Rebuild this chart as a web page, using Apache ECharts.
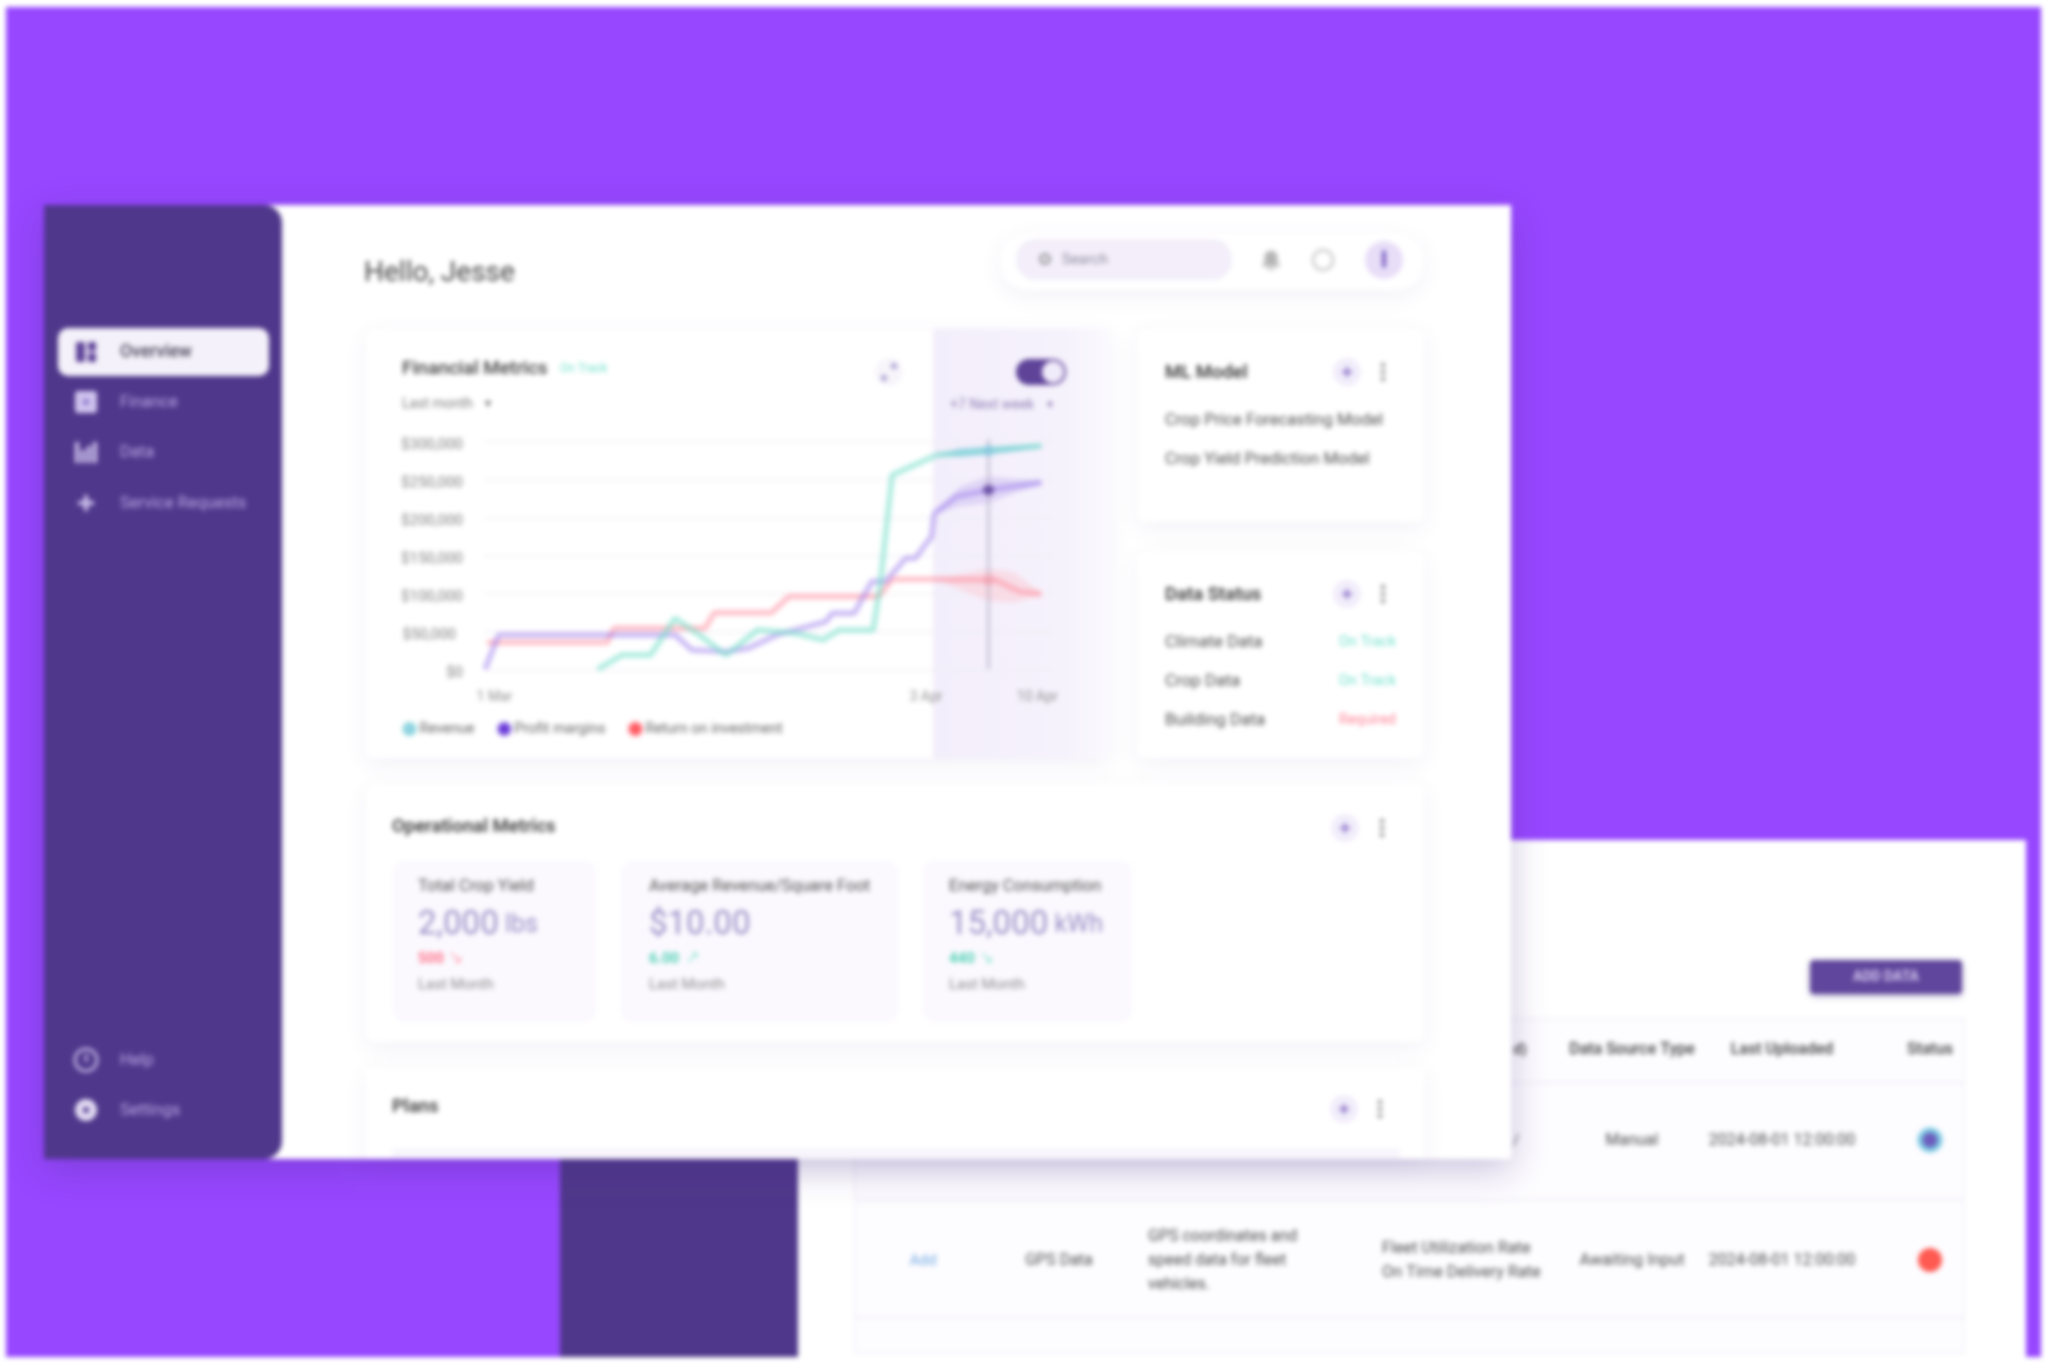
<!DOCTYPE html>
<html><head><meta charset="utf-8">
<style>html,body{margin:0;padding:0;background:#fff;overflow:hidden}#c{width:2048px;height:1363px;filter:blur(2.5px)}</style>
<script src="https://cdn.jsdelivr.net/npm/echarts@6/dist/echarts.min.js"></script>
</head><body><div id="c"></div>
<script>
// ---- chart data (days since 1 Mar, dollars) ----
const revenueDays   = [8.3,10.1,12.2,14.0,15.8,17.75,20.1,22.9,24.9,26.1,28.6,29.1,30.0,33.3,37.1,41.0];
const revenueValues = [0,18900,18900,67200,45300,18900,51800,47500,38700,51800,51800,109000,256200,282500,288300,294400];
const profitDays    = [0,1.0,14,15.25,17.75,19.4,21.5,25.1,25.6,27.2,28.5,29.5,31.0,31.7,32.9,33.1,34.7,37.1,41.0];
const profitValues  = [0,45300,45300,25500,23300,27700,45300,62800,73800,73800,115600,115600,146300,146300,174900,205600,227600,236400,246100];
const roiDays       = [0.15,9.0,9.5,16.2,16.9,21.1,22.4,29.0,30.0,33.3,37.6,39.4,41.0];
const roiValues     = [35200,35200,54000,54000,74700,74700,95800,95800,118600,118600,117800,102400,99300];
const bandDays      = [33.3,35,37.1,39,41];
const revenueLow    = [282000,280000,283000,287000,293000];
const revenueHigh   = [283000,291000,293000,295000,296000];
const profitLow     = [205000,215000,219000,232000,243000];
const profitHigh    = [209000,241000,254000,251000,249000];
const roiLow        = [118000,105000,90000,88000,97000];
const roiHigh       = [119000,125000,133000,128000,101000];
const selectedDay   = 37.1;
const selectedVals  = [288300,236400,117800];
const cursorSpan    = [0,304000];
const seriesNames   = ['Revenue','Profit margins','Return on investment'];
const yTicks        = [0,50000,100000,150000,200000,250000,300000];
const yTickLabels   = ['$0','$50,000','$100,000','$150,000','$200,000','$250,000','$300,000'];
const xTickDays     = [0.7,32.5,40.7];
const xTickLabels   = ['1 Mar','3 Apr','10 Apr'];
// ---- page text ----
const navTop = ['Finance','Data','Service Requests'];
const navBottom = ['Help','Settings'];
const mlRows = ['Crop Price Forecasting Model','Crop Yield Prediction Model'];
const statusRows = ['Climate Data','Crop Data','Building Data'];
const statusVals = ['On Track','On Track','Required'];
const metricTitles = ['Total Crop Yield','Average Revenue/Square Foot','Energy Consumption'];
const metricNums = ['2,000','$10.00','15,000'];
const metricUnits = [' lbs','',' kWh'];
const metricDeltas = ['500','6.00','440'];

const F='Roboto';
const PUR='#9747FF',DK='#4F378B',MID='#5F4399',TEAL='#6FE0CC',RED='#FF8296';
const g=[];
function R(x,y,w,h,fill,r,extra){g.push({type:'rect',silent:true,shape:{x,y,width:w,height:h,r:r||0},style:Object.assign({fill},extra||{})});}
function C(cx,cy,r,fill,extra){g.push({type:'circle',silent:true,shape:{cx,cy,r},style:Object.assign({fill},extra||{})});}
function T(x,y,text,size,fill,weight,align){g.push({type:'text',silent:true,x,y:y+3.3,style:{text,fontSize:size,fontFamily:F,fontWeight:weight||400,fill,textAlign:align||'left',textVerticalAlign:'middle',align:align||'left',verticalAlign:'middle'}});}
function controls(px,kx,y){C(px,y,14,'#F2EDFB');R(px-5,y-1,10,2,'#7A5FC0');R(px-1,y-5,2,10,'#7A5FC0');[-7,0,7].forEach(d=>C(kx,y+d,1.9,'#666'));}
const shadow={shadowBlur:22,shadowColor:'rgba(90,60,150,.08)',shadowOffsetY:6};

// page background
R(6,7,2035,1350,PUR);
// back window
R(798,840,1228,517,'#fff');
R(1810,960,152,34,'#60469C',4,{shadowBlur:6,shadowColor:'rgba(60,40,120,.35)',shadowOffsetY:2});
T(1886,974,'ADD DATA',14,'#D6CAF0',700,'center');
R(855,1019,1109,334,'#FDFCFF',0,{stroke:'#F1EEF6',lineWidth:1.5});
[1082,1199,1317].forEach(y=>R(855,y,1109,1.5,'#EFECF4'));
T(1520,1047,'d)',15,'#3E3E3E',500,'center');
T(1632,1047,'Data Source Type',16,'#3E3E3E',500,'center');
T(1782,1047,'Last Uploaded',16,'#3E3E3E',500,'center');
T(1930,1047,'Status',16,'#3E3E3E',500,'center');
T(1513,1138,'/',15,'#555');
T(1632,1138,'Manual',16,'#4C4C4C',400,'center');
T(1782,1138,'2024-08-01 12:00:00',16,'#4C4C4C',400,'center');
C(1930,1140,12.5,'#7CCBE2');C(1930,1140,7.5,'#6D5CBE');
T(923,1258,'Add',15,'#6FA8E0',400,'center');
T(1059,1258,'GPS Data',16,'#4C4C4C',400,'center');
T(1148,1234,'GPS coordinates and',16,'#4C4C4C');T(1148,1258,'speed data for fleet',16,'#4C4C4C');T(1148,1282,'vehicles.',16,'#4C4C4C');
T(1382,1246,'Fleet Utilization Rate',16.3,'#4C4C4C');T(1382,1270,'On Time Delivery Rate',16.3,'#4C4C4C');
T(1632,1258,'Awaiting Input',16.5,'#4C4C4C',400,'center');
T(1782,1258,'2024-08-01 12:00:00',16,'#4C4C4C',400,'center');
C(1930,1260,12,'#FF5A52');
// dark strip below window
R(560,1159,238,198,DK);
// main window
R(44,205,1467,954,'#fff',0,{shadowBlur:34,shadowColor:'rgba(70,40,130,.28)',shadowOffsetY:10});
R(44,205,238,954,DK,[0,18,18,0]);
// nav
R(58,328,211,48,'#F4F1FA',10);
R(76,342,9,20,MID,1);R(88,342,8,9,MID,1);R(88,353,8,9,MID,1);
T(120,349,'Overview',17.5,'#4A4458',500);
navTop.forEach((t,i)=>T(120,[400,450,501][i],t,16.5,'#BCA9E6'));
R(75,391,22,22,'#CFC3EE',3);C(86,402,3,'#8B74C8');
R(75,442,4,21,'#CFC3EE');R(81,450,4,13,'#CFC3EE');R(87,446,4,17,'#CFC3EE');R(93,442,4,21,'#CFC3EE');
R(84,495,4,16,'#CFC3EE');R(78,501,16,4,'#CFC3EE');
C(86,1060,11,'none',{stroke:'#CFC3EE',lineWidth:2.5});R(85,1054,2.5,8,'#CFC3EE');
C(86,1110,11,'#E3DCF4');C(86,1110,3,DK);
navBottom.forEach((t,i)=>T(120,[1058,1108][i],t,16.5,'#BCA9E6'));
// header
T(364,271,'Hello, Jesse',28,'#444');
R(1000,233,424,57,'#fff',28,shadow);
R(1016,239,216,41,'#F3EEFA',20);
C(1045,259,4.5,'none',{stroke:'#777',lineWidth:2});
T(1062,257,'Search',15,'#8E8A98');
C(1271,257,6.5,'#B5B5B5');R(1264.5,257,13,8,'#B5B5B5');R(1262,264,18,2.5,'#B5B5B5');R(1268,268,6,2,'#B5B5B5');
C(1323,260,10,'none',{stroke:'#BCBCBC',lineWidth:2});
C(1384,260,19,'#E8DEF8');R(1382,250,4,18,'#7A5FC0',2);
// financial card
R(366,329,744,429,'#fff',8,shadow);
R(933,329,177,429,{type:'linear',x:0,y:0,x2:1,y2:0,colorStops:[{offset:0,color:'#F3EEFB'},{offset:.75,color:'#F6F2FC'},{offset:1,color:'#FBFAFE'}]});
T(402,366,'Financial Metrics',19,'#3F3F3F',500);
T(560,366,'On Track',12,TEAL);
T(402,401,'Last month',14,'#7E7E7E');
T(485,401,'▾',12,'#666');
C(889,372,14,'#F7F5FA');C(884,378,3,'#A79AD0');C(894,366,3,'#A79AD0');
R(1016,359,50,26,MID,13);C(1053,372,11,'#F0EBFA');
T(950,402,'+7 Next week',14,'#8F80B5');
T(1047,402,'▾',12,'#8A7BB0');
// ML card
R(1137,329,287,193,'#fff',8,shadow);
T(1165,370,'ML Model',18.5,'#3F3F3F',600);
controls(1347,1383,372);
mlRows.forEach((t,i)=>T(1165,[418,457][i],t,16.6,'#4F4F4F'));
// data status
R(1137,551,287,207,'#fff',8,shadow);
T(1165,592,'Data Status',18.5,'#3F3F3F',600);
controls(1347,1383,594);
statusRows.forEach((t,i)=>{const y=[639.5,678.5,717.5][i];T(1165,y,t,17,'#4F4F4F');T(1396,y,statusVals[i],14.5,i<2?TEAL:RED,400,'right');});
// operational
R(366,784,1058,258,'#fff',8,shadow);
T(392,824,'Operational Metrics',18.5,'#3F3F3F',600);
controls(1345,1382,828);
[[392,205,26],[620,279,29],[922,211,26]].forEach(([x,w,o],i)=>{
  R(x,860,w,163,'#FBF9FE',14);
  const tx=x+o+(i==2?1:0);
  T(tx,884,metricTitles[i],16.5,'#4F4F4F');
  g.push({type:'text',silent:true,x:tx,y:926,style:{text:'{a|'+metricNums[i]+'}{b|'+metricUnits[i]+'}',textVerticalAlign:'middle',verticalAlign:'middle',rich:{a:{fontSize:33,fontFamily:F,fill:'#9A8DC6',color:'#9A8DC6'},b:{fontSize:25,fontFamily:F,fill:'#9A8DC6',color:'#9A8DC6'}}}});
  T(tx,955.5,metricDeltas[i],15,i==0?'#FF7088':'#4FD0B5',700);
  T(tx+(i==1?36:30),955.5,i==1?'↗':'↘',18,i==0?'#FF9FAE':'#8FE3D2');
  T(tx,982,'Last Month',15,'#8A8A8A');
});
// plans
R(366,1068,1058,91,'#fff',0,shadow);
T(392,1104,'Plans',18.5,'#3F3F3F',600);
controls(1344,1380,1109);
R(392,1148,1008,11,'#F8F6FC');

const pair=(xs,ys)=>xs.map((x,i)=>[x,ys[i]]);
function band(name,lo,hi,color,op){
  return {type:'custom',name,z:3,clip:false,silent:true,
    data:[[bandDays[0],lo[0]]],
    renderItem:(p,api)=>{
      const top=bandDays.map((d,i)=>api.coord([d,hi[i]]));
      const bot=bandDays.map((d,i)=>api.coord([d,lo[i]])).reverse();
      return {type:'polygon',shape:{points:top.concat(bot)},style:{fill:color,opacity:op}};
    }};
}
const lineBase={type:'line',symbol:'none',smooth:false,clip:false,z:4};
const chart=echarts.init(document.getElementById('c'),null,{width:2048,height:1363,devicePixelRatio:1});
chart.setOption({
  animation:false,
  backgroundColor:'transparent',
  graphic:{elements:g},
  grid:{left:485,top:441.7,width:570,height:227.6,containLabel:false},
  xAxis:{type:'value',min:0,max:42,splitLine:{show:false},axisLine:{show:false},axisTick:{show:false},
    axisLabel:{customValues:xTickDays,formatter:v=>xTickLabels[xTickDays.findIndex(d=>Math.abs(d-v)<.01)]||'',color:'#8F8F8F',fontSize:14,fontFamily:F,margin:21,hideOverlap:false}},
  yAxis:{type:'value',min:0,max:300000,interval:50000,axisLine:{show:false},axisTick:{show:false},
    splitLine:{lineStyle:{color:'#F0EEF4',width:1.5}},
    axisLabel:{formatter:v=>v===50000?'{s|'+yTickLabels[1]+'}':yTickLabels[yTicks.indexOf(v)],color:'#7E7E7E',fontSize:15,fontFamily:F,margin:22,padding:[8,0,0,0],
      rich:{s:{color:'#7E7E7E',fontSize:15,fontFamily:F,padding:[0,7,0,0]}}}},
  legend:{left:397,top:716,itemGap:22,itemWidth:14,itemHeight:14,icon:'circle',
    textStyle:{fontSize:14.5,fontFamily:F,color:'#636363',padding:[0,0,0,-2]},
    data:[
     {name:seriesNames[0],itemStyle:{color:'#8FD3E2',borderColor:'#B5EBE0',borderWidth:1}},
     {name:seriesNames[1],itemStyle:{color:'#6A3CD8',borderColor:'#C9B8F2',borderWidth:2}},
     {name:seriesNames[2],itemStyle:{color:'#FF5A60',borderColor:'#FFB5BE',borderWidth:2}}]},
  series:[
    band('revenueBand',revenueLow,revenueHigh,'#7CB9E8',.6),
    band('profitBand',profitLow,profitHigh,'#B9A5EE',.36),
    band('roiBand',roiLow,roiHigh,'#FFB9C2',.36),
    Object.assign({},lineBase,{name:seriesNames[2],data:pair(roiDays,roiValues),lineStyle:{color:'#FF8E9E',width:5.5,opacity:.55},itemStyle:{color:'#FF5A60'}}),
    Object.assign({},lineBase,{name:seriesNames[1],data:pair(profitDays,profitValues),lineStyle:{color:'#9C7CEB',width:5.5,opacity:.52},itemStyle:{color:'#6A3CD8'}}),
    Object.assign({},lineBase,{name:seriesNames[0],data:pair(revenueDays,revenueValues),lineStyle:{color:'#72DEC8',width:5.5,opacity:.58},itemStyle:{color:'#8FD3E2'}}),
    {type:'custom',name:'cursor',z:5,clip:false,silent:true,data:[[selectedDay,cursorSpan[0]]],
     renderItem:(p,api)=>{const a=api.coord([selectedDay,cursorSpan[0]]),b=api.coord([selectedDay,cursorSpan[1]]);
       return {type:'line',shape:{x1:a[0],y1:a[1],x2:b[0],y2:b[1]},style:{stroke:'#A9A2BA',lineWidth:3,opacity:.55}};}},
    {type:'scatter',name:'selected',z:6,symbolSize:11,clip:false,
     data:[
      {value:[selectedDay,selectedVals[0]],itemStyle:{color:'#86CBE0'}},
      {value:[selectedDay,selectedVals[1]],itemStyle:{color:'#5B3F99'}},
      {value:[selectedDay,selectedVals[2]],itemStyle:{color:'#F2A5B3'}}]}
  ]
});
</script></body></html>
